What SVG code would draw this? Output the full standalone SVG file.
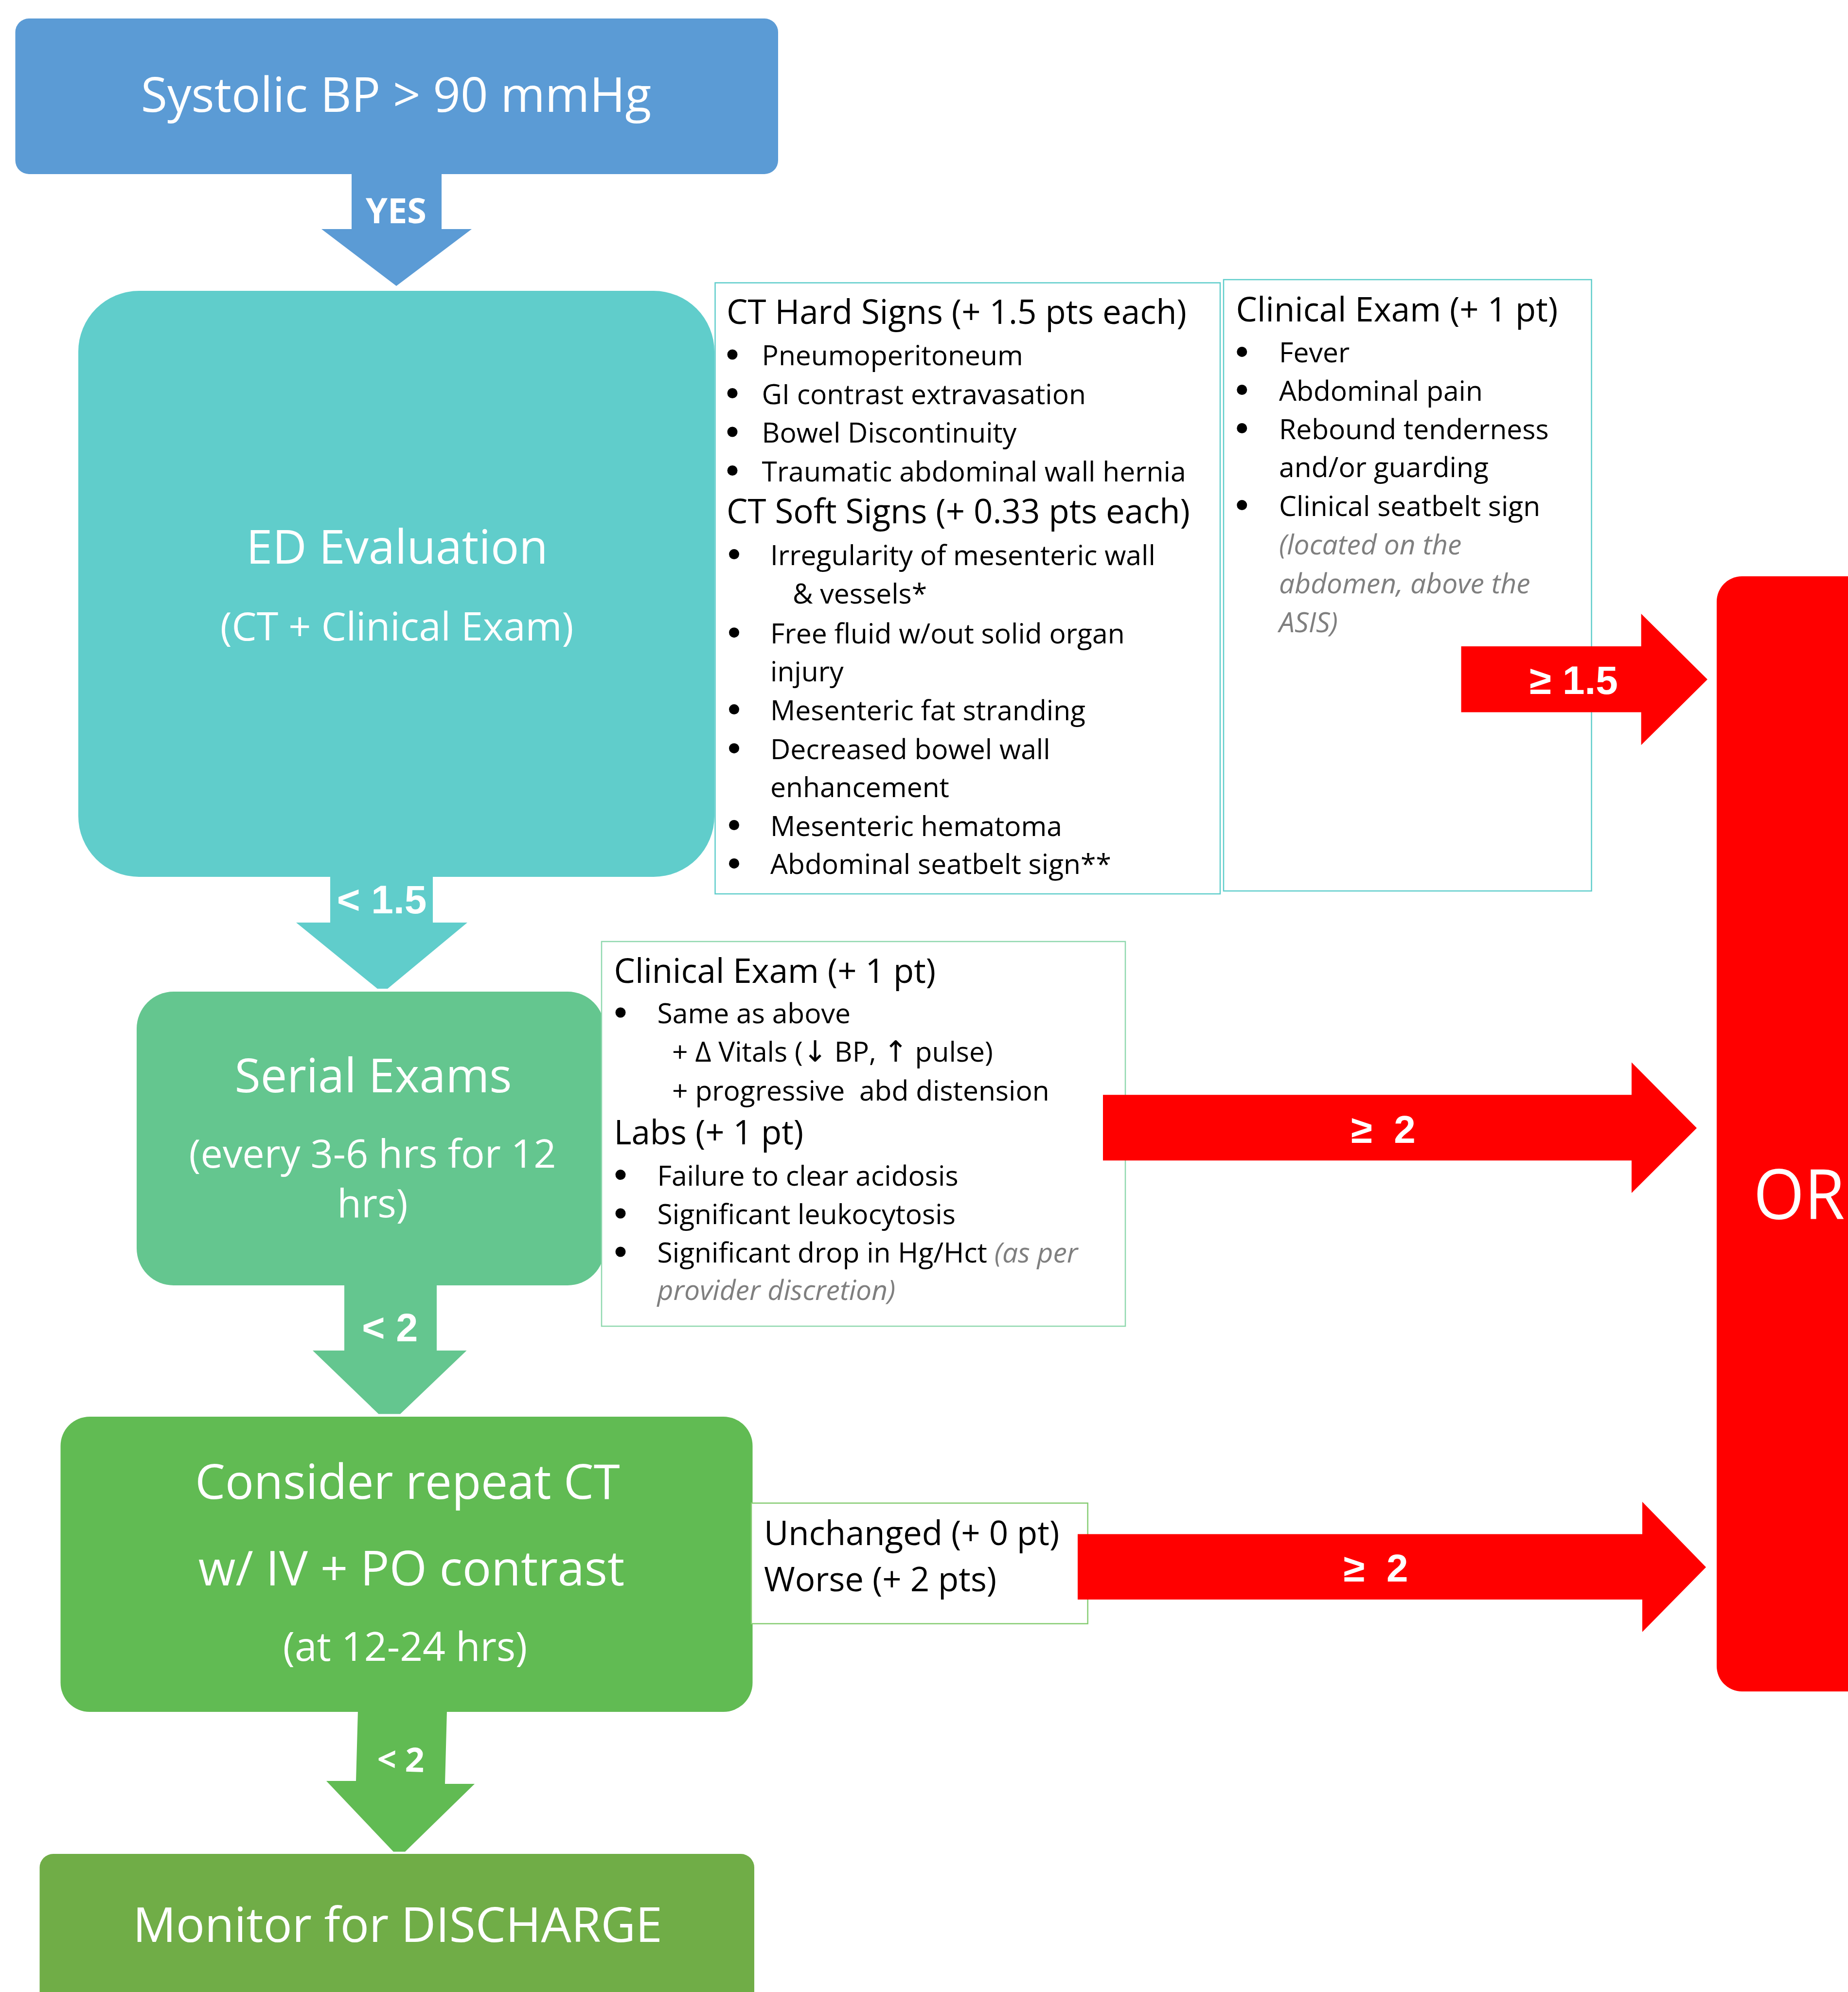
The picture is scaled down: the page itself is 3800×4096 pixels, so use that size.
<svg xmlns="http://www.w3.org/2000/svg" width="3800" height="4096" viewBox="0 0 3800 4096">
<style>
.t{font-family:"Open Sans","Liberation Sans",sans-serif;}
.w{fill:#FFFFFF;}
.k{fill:#000000;font-size:57px;}
.h{font-size:69px;}
.g{fill:#7F7F7F;font-style:italic;}
.bu{fill:#000000;}
.lbl{font-family:"Liberation Sans",Arial,sans-serif;font-weight:bold;fill:#FFFFFF;text-anchor:middle;white-space:pre;}
.c{text-anchor:middle;}
.pre{white-space:pre;}
.box{fill:#FFFFFF;stroke-width:2.5;}
</style>
<rect x="0" y="0" width="3800" height="4096" fill="#FFFFFF"/>

<g id="node-systolic">
<rect x="31.5" y="38" width="1568.5" height="320" rx="28" fill="#5B9BD5"/>
<text class="t w c" x="814.5" y="230" font-size="99">Systolic BP &gt; 90 mmHg</text>
</g>

<g id="node-ed">
<rect x="161" y="598" width="1308" height="1205" rx="125" fill="#60CDCB"/>
<text class="t w c" x="816.5" y="1159" font-size="97">ED Evaluation</text>
<text class="t w c" x="816" y="1317" font-size="81">(CT + Clinical Exam)</text>
</g>

<g id="node-serial">
<rect x="281" y="2039" width="962" height="604" rx="76" fill="#64C68F"/>
<text class="t w c" x="767.5" y="2246" font-size="97">Serial Exams</text>
<text class="t w c" x="766" y="2401" font-size="81">(every 3-6 hrs for 12</text>
<text class="t w c" x="766" y="2503" font-size="81">hrs)</text>
</g>

<g id="node-repeat-ct">
<rect x="124.5" y="2913" width="1423" height="607" rx="60" fill="#61BB53"/>
<text class="t w c" x="838" y="3082" font-size="98">Consider repeat CT</text>
<text class="t w c" x="846" y="3260" font-size="99">w/ IV + PO contrast</text>
<text class="t w c" x="833" y="3415" font-size="82">(at 12-24 hrs)</text>
</g>

<g id="node-discharge">
<rect x="81.5" y="3812" width="1469.5" height="400" rx="28" fill="#70AD47"/>
<text class="t w c" x="817.5" y="3992.5" font-size="98.5">Monitor for DISCHARGE</text>
</g>

<g id="node-ct-signs">
<rect class="box" x="1470.5" y="581.5" width="1038.5" height="1256.5" stroke="#5FCDCB"/>
<text class="t k h" x="1494" y="665.6">CT Hard Signs (+ 1.5 pts each)</text>
<circle class="bu" cx="1506" cy="729" r="10.5"/>
<text class="t k" x="1566.6" y="751">Pneumoperitoneum</text>
<circle class="bu" cx="1506" cy="808.5" r="10.5"/>
<text class="t k" x="1566.6" y="830.5">GI contrast extravasation</text>
<circle class="bu" cx="1506" cy="888" r="10.5"/>
<text class="t k" x="1566.6" y="910">Bowel Discontinuity</text>
<circle class="bu" cx="1506" cy="967.5" r="10.5"/>
<text class="t k" x="1566.6" y="989.5">Traumatic abdominal wall hernia</text>
<text class="t k h" x="1494" y="1075.6">CT Soft Signs (+ 0.33 pts each)</text>
<circle class="bu" cx="1509.5" cy="1139.6" r="10.5"/>
<text class="t k" x="1584" y="1161.6">Irregularity of mesenteric wall</text>
<text class="t k" x="1630" y="1241">&amp; vessels*</text>
<circle class="bu" cx="1509.5" cy="1300.7" r="10.5"/>
<text class="t k" x="1584" y="1322.7">Free fluid w/out solid organ</text>
<text class="t k" x="1584" y="1400.7">injury</text>
<circle class="bu" cx="1509.5" cy="1458.6" r="10.5"/>
<text class="t k" x="1584" y="1480.6">Mesenteric fat stranding</text>
<circle class="bu" cx="1509.5" cy="1538.7" r="10.5"/>
<text class="t k" x="1584" y="1560.7">Decreased bowel wall</text>
<text class="t k" x="1584" y="1638.6">enhancement</text>
<circle class="bu" cx="1509.5" cy="1696.5" r="10.5"/>
<text class="t k" x="1584" y="1718.5">Mesenteric hematoma</text>
<circle class="bu" cx="1509.5" cy="1775.4" r="10.5"/>
<text class="t k" x="1584" y="1797.4">Abdominal seatbelt sign**</text>
</g>

<g id="node-clinical-exam-1">
<rect class="box" x="2516" y="575" width="756.6" height="1257" stroke="#5FCDCB"/>
<text class="t k h" x="2541.6" y="661">Clinical Exam (+ 1 pt)</text>
<circle class="bu" cx="2553.8" cy="723.4" r="10.5"/>
<text class="t k" x="2630" y="745.4">Fever</text>
<circle class="bu" cx="2553.8" cy="801.5" r="10.5"/>
<text class="t k" x="2630" y="823.5">Abdominal pain</text>
<circle class="bu" cx="2553.8" cy="880.5" r="10.5"/>
<text class="t k" x="2630" y="902.5">Rebound tenderness</text>
<text class="t k" x="2630" y="980.7">and/or guarding</text>
<circle class="bu" cx="2553.8" cy="1038.6" r="10.5"/>
<text class="t k" x="2630" y="1060.6">Clinical seatbelt sign</text>
<text class="t k g" x="2630" y="1140">(located on the</text>
<text class="t k g" x="2630" y="1220">abdomen, above the</text>
<text class="t k g" x="2630" y="1300">ASIS)</text>
</g>

<g id="node-clinical-exam-2">
<rect class="box" x="1237" y="1936" width="1077" height="791" stroke="#8FD8AE"/>
<text class="t k h" x="1262.5" y="2020.6">Clinical Exam (+ 1 pt)</text>
<circle class="bu" cx="1276" cy="2082" r="10.5"/>
<text class="t k" x="1351.5" y="2104">Same as above</text>
<text class="t k pre" x="1382" y="2182.6">+ Δ Vitals (<tspan font-family="DejaVu Sans" font-size="60">↓</tspan> BP, <tspan font-family="DejaVu Sans" font-size="60">↑</tspan> pulse)</text>
<text class="t k pre" x="1382" y="2263">+ progressive  abd distension</text>
<text class="t k h" x="1262.5" y="2353">Labs (+ 1 pt)</text>
<circle class="bu" cx="1276" cy="2415.6" r="10.5"/>
<text class="t k" x="1351.5" y="2437.6">Failure to clear acidosis</text>
<circle class="bu" cx="1276" cy="2495" r="10.5"/>
<text class="t k" x="1351.5" y="2517">Significant leukocytosis</text>
<circle class="bu" cx="1276" cy="2574" r="10.5"/>
<text class="t k" x="1351.5" y="2596">Significant drop in Hg/Hct <tspan class="g">(as per</tspan></text>
<text class="t k g" x="1351.5" y="2673">provider discretion)</text>
</g>

<g id="node-repeat-result">
<rect class="box" x="1545" y="3090.7" width="691.7" height="248" stroke="#86CC72"/>
<text class="t k h" x="1571" y="3177">Unchanged (+ 0 pt)</text>
<text class="t k h" x="1571" y="3272">Worse (+ 2 pts)</text>
</g>

<g id="node-or">
<rect x="3530" y="1185" width="400" height="2293" rx="52" fill="#FF0000"/>
<text class="t w" x="3605.5" y="2506.7" font-size="143" textLength="188" lengthAdjust="spacingAndGlyphs">OR</text>
</g>

<g id="connectors">
<g id="arrow-yes">
<polygon points="723,355 908,355 908,471 970,471 815,588 661,471 723,471" fill="#5B9BD5"/>
<text class="t w c" x="814.5" y="459" font-size="72" font-weight="bold">YES</text>
</g>
<g id="arrow-ed-serial">
<polygon points="679,1798 890,1798 890,1897 961,1897 797,2033 776,2033 609,1897 679,1897" fill="#60CDCB"/>
<text class="lbl" x="785" y="1878" font-size="82">&lt; 1.5</text>
</g>
<g id="arrow-serial-ct">
<polygon points="708,2640 898,2640 898,2777 959.5,2777 823,2907.6 778.5,2907.6 643,2777 708,2777" fill="#64C68F"/>
<text class="lbl" x="801.8" y="2758" font-size="81">&lt; 2</text>
</g>
<g id="arrow-ct-discharge">
<polygon points="736,3517 919,3517 915,3668 976,3668 833,3807.5 809,3807.5 671,3662 732,3662" fill="#61BB53"/>
<text class="t w c" x="824" y="3642.6" font-size="69" font-weight="bold" transform="rotate(1.6 824 3625)">&lt; 2</text>
</g>
<g id="arrow-ed-or">
<polygon points="3004.6,1329 3374.7,1329 3374.7,1262 3511,1397 3374.7,1532 3374.7,1464.4 3004.6,1464.4" fill="#FF0000"/>
<text class="lbl" x="3236" y="1427" font-size="82">≥ 1.5</text>
</g>
<g id="arrow-serial-or">
<polygon points="2268,2251.3 3355,2251.3 3355,2184.6 3489,2319.6 3355,2453 3355,2386.3 2268,2386.3" fill="#FF0000"/>
<text class="lbl" x="2844.4" y="2350" font-size="80">≥  2</text>
</g>
<g id="arrow-ct-or">
<polygon points="2216,3154.4 3377,3154.4 3377,3088 3508,3222.4 3377,3355.8 3377,3289 2216,3289" fill="#FF0000"/>
<text class="lbl" x="2829" y="3252.4" font-size="80">≥  2</text>
</g>
</g>
</svg>
